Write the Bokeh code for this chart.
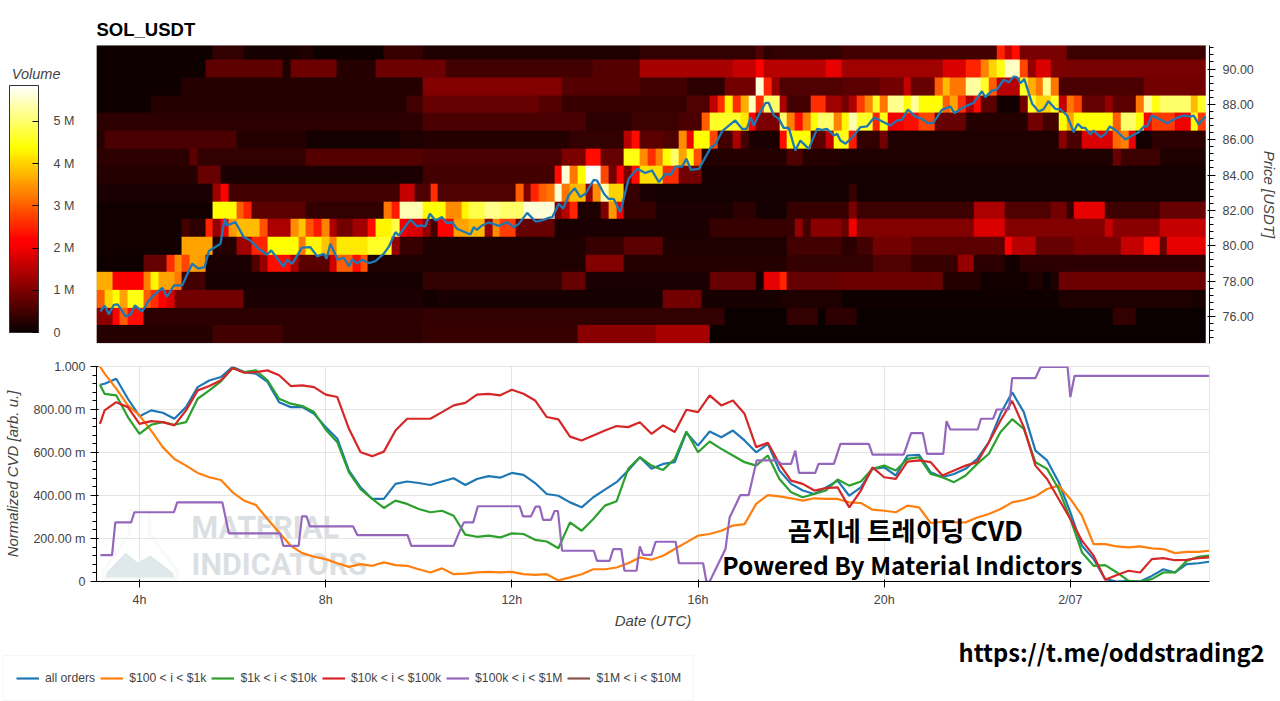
from bokeh.plotting import figure
from bokeh.layouts import column
from bokeh.models import (ColorBar, LinearColorMapper, BasicTicker, Label, Legend, LegendItem, LinearAxis,
                          CustomJSTickFormatter, NumeralTickFormatter, FixedTicker, PolyAnnotation)
from bokeh.embed import file_html
from bokeh.resources import INLINE
import numpy as np

# volume per price row, in millions: (value, column the run ends at), one column = 10 min
vol_91 = [(.05,15),(.35,19),(.12,26),(.2,28),(.05,37),(.4,42),(.2,70),(.35,85),(.6,86),(.3,87),(.35,96),(.5,116),(2.5,117),(1.6,118),(2.3,119),(.95,125),(.45,143)]
vol_90 = [(.05,14),(.75,24),(.2,25),(.85,31),(.25,36),(.85,45),(.48,64),(.65,70),(1.35,82),(1.6,85),(2.2,86),(1.5,94),(1.9,96),(1.3,109),(1.8,112),(2.5,114),(3.3,115),(4.0,116),(4.5,117),(5.5,119),(2.8,120),(1.2,121),(1.8,123),(1.0,125),(.95,143)]
vol_89 = [(.05,11),(.25,42),(1.05,60),(.65,70),(.5,76),(.3,81),(.9,85),(5.6,86),(2.5,87),(1.2,88),(.6,96),(.7,101),(.9,104),(1.6,105),(.8,108),(3.0,109),(3.8,110),(3.2,112),(5.3,114),(4.6,115),(3.0,116),(1.5,119),(4.6,120),(3.7,121),(3.2,122),(5.2,123),(3.2,124),(.55,135),(.9,143)]
vol_88 = [(.05,7),(.25,40),(.5,42),(.8,57),(.65,60),(.4,76),(.6,79),(1.6,80),(2.6,81),(4.3,82),(2.6,83),(3.7,84),(5.5,85),(2.6,86),(5.0,88),(1.4,89),(.5,92),(2.6,94),(1.3,96),(.9,97),(1.4,98),(2.7,99),(3.4,100),(4.6,101),(3.2,102),(5.2,104),(4.4,105),(5.3,106),(4.4,109),(3.0,110),(3.6,111),(2.6,112),(1.4,113),(2.3,114),(.7,116),(.08,119),(.9,120),(4.6,121),(4.0,123),(4.6,124),(1.6,125),(3.2,126),(2.8,127),(.8,130),(1.2,131),(.7,134),(3.2,135),(5.3,136),(4.5,137),(5.0,141),(3.8,142),(4.6,143)]
vol_87 = [(.3,42),(.55,63),(.3,69),(.45,75),(.55,78),(3.0,79),(4.6,83),(4.2,84),(2.2,85),(1.0,88),(5.0,89),(3.3,90),(2.3,91),(3.3,92),(4.4,93),(5.0,95),(3.3,96),(4.3,97),(5.4,98),(4.6,100),(2.5,101),(4.5,102),(2.0,104),(2.3,106),(2.8,108),(.8,112),(.25,120),(.9,122),(.5,124),(4.4,125),(3.6,126),(4.4,131),(3.0,132),(5.0,134),(4.4,135),(2.1,136),(2.7,139),(2.0,141),(4.5,142),(2.7,143)]
vol_86 = [(.25,1),(.55,18),(.25,27),(.1,39),(.2,42),(.25,61),(.35,68),(1.5,69),(2.3,70),(.7,73),(.6,75),(3.4,76),(2.0,77),(4.4,79),(2.8,80),(.5,82),(1.4,83),(.5,84),(.15,88),(2.3,89),(4.4,92),(.7,94),(1.6,95),(4.5,97),(2.4,98),(.35,101),(.9,102),(.2,124),(1.1,125),(.55,127),(1.8,131),(3.1,132),(3.3,133),(1.9,134),(.1,136),(.3,143)]
vol_85 = [(.3,12),(.7,13),(.35,27),(.65,42),(.55,60),(1.0,63),(2.3,65),(.8,68),(4.5,70),(3.4,71),(2.6,72),(3.3,73),(4.4,74),(5.0,75),(3.6,76),(4.5,77),(2.9,78),(.25,89),(.6,91),(.25,96),(.2,131),(.8,132),(.45,137),(.2,143)]
vol_84 = [(.25,13),(.8,16),(.15,42),(.5,59),(2.3,60),(5.6,61),(3.2,62),(4.4,63),(5.8,65),(2.8,66),(.9,67),(2.2,68),(1.0,69),(2.3,70),(4.1,73),(2.6,75),(.9,78),(.12,96),(.1,143)]
vol_83 = [(.15,15),(1.3,16),(2.2,17),(.5,39),(1.6,41),(.6,43),(2.6,44),(.6,54),(3.0,55),(1.0,56),(2.5,57),(3.0,58),(3.2,59),(5.6,60),(3.2,61),(3.8,63),(1.2,64),(3.4,65),(5.4,66),(4.0,68),(.4,70),(.15,72),(.1,97),(.4,98),(.1,143)]
vol_82 = [(.08,15),(4.4,18),(3.0,19),(2.5,20),(.7,27),(.35,37),(3.2,38),(2.4,39),(5.4,42),(4.4,45),(3.4,47),(4.3,48),(4.8,50),(5.2,52),(5.0,55),(5.6,59),(1.0,60),(1.5,61),(2.5,62),(.2,65),(1.0,66),(3.5,67),(2.0,68),(.4,72),(.15,82),(.3,85),(.1,89),(.4,97),(1.0,98),(.45,113),(1.4,117),(.6,123),(.9,125),(.35,126),(1.9,130),(.5,131),(.45,137),(.8,143)]
vol_81 = [(.08,11),(.5,12),(.3,14),(2.5,15),(1.2,16),(2.0,17),(3.5,18),(3.8,21),(2.9,22),(1.4,25),(3.4,26),(3.9,27),(2.9,28),(2.4,29),(3.3,30),(1.4,31),(.9,33),(1.3,35),(2.3,36),(4.3,38),(4.8,39),(2.0,40),(1.8,42),(1.2,43),(.5,44),(2.2,46),(3.6,48),(3.8,50),(1.2,51),(3.4,52),(2.7,54),(.8,59),(.15,79),(.4,90),(1.2,91),(.5,92),(1.1,96),(.8,97),(2.0,98),(1.05,113),(1.8,117),(1.05,130),(1.6,131),(1.1,137),(1.6,143)]
vol_80 = [(.08,11),(3.6,15),(.25,18),(1.3,20),(2.5,22),(4.4,26),(3.2,27),(4.3,29),(3.9,30),(3.3,31),(4.2,35),(4.6,38),(1.2,39),(.4,42),(.2,63),(.4,68),(.7,73),(.2,89),(.5,96),(.3,98),(.5,100),(.9,105),(.7,117),(2.2,118),(1.5,121),(.8,126),(1.0,132),(1.6,135),(2.3,137),(.8,138),(1.9,143)]
vol_79 = [(.05,6),(.8,9),(2.6,10),(3.4,11),(2.8,12),(3.6,13),(3.5,14),(.15,20),(.6,21),(1.2,22),(2.3,25),(1.4,26),(.7,30),(1.7,31),(3.0,33),(2.3,34),(2.9,35),(.2,63),(1.05,68),(.25,89),(.4,90),(.35,100),(.6,105),(.4,111),(1.2,113),(.3,117),(.08,119),(.3,143)]
vol_78 = [(3.7,2),(2.2,6),(3.3,7),(4.3,8),(3.6,10),(3.2,11),(.5,14),(.12,42),(.35,60),(.8,63),(.15,79),(.8,85),(.1,86),(1.9,88),(2.5,89),(.8,96),(.85,109),(.25,114),(.07,120),(.2,122),(.03,123),(.2,124),(.85,143)]
vol_77 = [(3.0,1),(4.0,2),(4.4,3),(3.6,4),(4.5,6),(3.0,7),(2.6,8),(2.2,9),(1.8,10),(.9,19),(.15,42),(.08,44),(.15,45),(.12,73),(.9,78),(.12,88),(.2,96),(.06,124),(.2,141),(.12,143)]
vol_76 = [(1.1,2),(2.2,3),(3.0,4),(2.3,6),(.3,42),(.35,81),(.02,89),(.35,93),(.02,94),(.3,98),(.02,131),(.35,134),(.02,143)]
vol_75 = [(.25,15),(.5,24),(.3,42),(.4,62),(1.1,72),(1.35,79),(.02,143)]

price_hours = [3.16,3.25,3.34,3.45,3.53,3.70,3.81,3.90,4.06,4.20,4.34,4.49,4.59,4.74,4.92,5.13,5.27,5.40,5.49,5.74,5.83,5.88,6.06,6.24,6.38,6.56,6.74,6.83,7.09,7.17,7.28,7.49,7.67,7.82,7.96,8.02,8.10,8.26,8.39,8.50,8.57,8.66,8.78,8.93,9.07,9.25,9.36,9.50,9.57,9.82,9.97,
               10.04,10.14,10.24,10.36,10.50,10.60,10.72,10.82,11.11,11.18,11.25,11.36,11.50,11.72,11.90,12.04,12.15,12.33,12.51,12.65,12.79,12.87,13.01,13.10,13.22,13.35,13.47,13.58,13.76,13.83,13.98,14.08,14.19,14.33,14.51,14.69,14.87,15.01,15.16,15.30,15.41,15.52,15.66,15.75,15.85,16.02,16.27,16.37,16.52,16.80,16.95,17.05,17.13,17.20,17.31,17.45,17.52,17.63,17.74,17.84,17.95,18.09,18.20,18.38,18.56,18.67,18.77,18.92,18.99,
               19.06,19.17,19.35,19.49,19.63,19.78,19.92,20.13,20.28,20.38,20.51,20.67,20.81,20.94,21.06,21.24,21.42,21.51,21.64,21.78,21.92,22.01,22.10,22.17,22.32,22.42,22.57,22.68,22.78,22.85,22.93,23.01,23.18,23.32,23.43,23.53,23.68,23.79,23.93,24.07,24.16,24.25,24.32,24.43,24.50,24.65,24.75,24.85,25.00,25.18,25.33,25.47,25.58,25.65,25.75,25.90,26.08,26.29,26.43,26.58,26.65,26.76,26.83,26.91]
price_values = [76.28,76.62,76.12,76.66,76.68,76.00,76.12,76.62,76.28,76.91,77.28,77.62,77.10,77.76,77.76,78.98,78.70,78.79,79.70,80.11,81.53,81.15,81.34,80.49,80.30,79.83,79.49,79.74,78.83,79.21,78.98,79.89,79.92,79.40,79.55,79.26,80.11,79.21,79.32,78.83,79.26,78.98,79.21,79.02,79.13,79.55,79.96,80.77,80.58,81.47,81.09,
                81.15,81.09,81.81,81.43,81.62,81.28,81.33,80.96,80.64,81.05,80.90,81.15,81.32,81.13,81.33,81.05,81.24,81.86,81.37,81.43,81.58,81.62,82.37,82.09,82.84,83.26,82.75,82.94,83.73,83.69,82.94,82.65,82.65,81.90,83.79,84.35,84.12,84.26,83.60,84.07,84.01,84.48,84.48,84.92,84.29,84.35,85.54,85.73,86.48,87.09,86.61,86.61,87.27,86.80,87.42,88.08,88.08,87.37,87.18,86.67,86.67,85.39,85.95,85.48,86.61,86.56,86.61,86.24,86.33,
                85.95,85.77,86.24,86.71,86.75,87.24,87.09,86.80,87.09,87.12,87.71,87.31,87.18,86.93,86.97,87.69,87.88,87.50,87.74,87.93,88.08,88.41,88.74,88.41,88.78,88.84,89.39,89.25,89.57,89.54,89.20,89.44,88.03,87.59,87.74,88.18,87.74,87.71,87.37,86.43,86.90,86.67,86.67,86.29,86.52,86.14,86.33,86.75,86.48,86.01,86.24,86.43,86.75,86.75,87.37,87.18,86.93,87.24,87.37,87.31,87.37,86.86,87.12,87.31]

# normalized cvd, read every 15 min
cvd_hours = [3.15] + [3.25 + 0.25 * i for i in range(95)] + [26.98]
cvd_all = [.915,.92,.943,.85,.769,.796,.785,.757,.811,.904,.935,.951,.998,.974,.967,.928,.834,.811,.811,.78,.718,.664,.516,.438,.384,.384,.454,.465,.458,
           .449,.465,.48,.449,.477,.49,.483,.505,.496,.458,.407,.399,.368,.345,.392,.427,.462,.516,.578,.524,.547,.555,.692,.632,.698,.671,.702,.656,.601,.64,.516,.454,.423,.407,.438,.469,
           .399,.438,.524,.531,.493,.586,.589,.508,.485,.5,.524,.57,.648,.78,.88,.788,.609,.563,.462,.322,.166,.104,.011,0,.003,0,.026,.057,.042,.081,.085,.092]
cvd_100_1k = [1.0,.967,.897,.819,.772,.702,.625,.57,.539,.505,.485,.472,.415,.376,.356,.291,.228,.166,.132,.115,.104,.085,.068,.081,.073,.089,.076,.073,.057,
              .042,.061,.034,.037,.042,.045,.042,.045,.034,.031,.034,.005,.019,.034,.057,.057,.065,.085,.112,.101,.12,.151,.182,.213,.221,.236,.26,.267,.361,.402,.396,.387,.376,.387,.384,.384,
              .368,.365,.334,.329,.322,.353,.345,.272,.278,.275,.275,.298,.314,.337,.368,.379,.396,.43,.446,.384,.306,.174,.174,.163,.159,.163,.154,.151,.132,.138,.138,.143]
cvd_1k_10k = [.915,.873,.866,.765,.687,.729,.741,.729,.741,.85,.889,.931,.993,.974,.982,.936,.85,.827,.816,.788,.707,.648,.508,.43,.384,.342,.376,.361,.337,
              .322,.329,.306,.218,.208,.213,.205,.224,.221,.194,.186,.155,.275,.236,.291,.353,.373,.524,.578,.539,.519,.57,.698,.601,.651,.617,.586,.555,.539,.586,.477,.415,.392,.407,.423,.474,
              .446,.465,.524,.539,.516,.57,.578,.5,.485,.462,.493,.547,.594,.695,.755,.71,.555,.524,.43,.291,.135,.073,.076,.042,.003,0,.011,.042,.042,.096,.115,.12]
cvd_10k_100k = [.733,.796,.834,.811,.733,.746,.741,.726,.796,.889,.909,.936,.993,.971,.974,.982,.959,.909,.912,.904,.869,.858,.71,.601,.583,.604,.702,.757,.757,
                .757,.788,.819,.831,.869,.873,.866,.892,.873,.842,.765,.754,.674,.656,.679,.702,.723,.718,.741,.687,.726,.695,.799,.788,.866,.819,.842,.78,.625,.645,.547,.469,.454,.423,.434,.438,
                .345,.423,.531,.485,.477,.558,.563,.555,.493,.516,.539,.555,.648,.749,.84,.718,.539,.477,.384,.291,.19,.12,.008,.03,.05,.042,.104,.109,.099,.101,.109,.112]
cvd_100k_1m_hours = [3.16,3.41,3.48,3.82,3.89,4.74,4.81,5.78,5.92,7.02,7.09,7.42,7.49,7.59,7.66,8.59,8.68,9.76,9.84,
                     10.75,10.86,10.97,11.17,11.27,12.17,12.24,12.41,12.51,12.60,12.67,12.84,12.92,12.99,13.08,13.76,13.83,14.10,14.18,14.35,14.42,14.68,14.75,14.82,15.0,15.09,15.52,15.59,16.11,16.18,16.25,16.59,16.68,16.91,17.09,17.26,17.70,17.79,18.0,18.09,18.17,18.52,18.59,18.92,
                     19.06,19.67,19.75,20.42,20.58,20.83,20.92,21.27,21.34,21.42,22.01,22.08,22.34,22.42,22.68,22.75,23.25,23.36,23.94,24.0,24.09,26.98]
cvd_100k_1m = [.123,.123,.275,.275,.322,.322,.368,.368,.224,.224,.166,.166,.303,.303,.256,.256,.216,.216,.166,
               .166,.225,.275,.275,.35,.35,.303,.303,.348,.348,.287,.287,.328,.328,.143,.143,.096,.096,.151,.151,.05,.05,.163,.124,.124,.185,.185,.085,.085,0,0,.151,.298,.402,.402,.563,.563,.547,.547,.609,.505,.505,.547,.547,
               .64,.64,.59,.59,.69,.69,.594,.594,.746,.707,.707,.757,.757,.80,.80,.946,.946,.998,.998,.858,.956,.956]

tick_hours = {4: '4h', 8: '8h', 12: '12h', 16: '16h', 20: '20h', 24: '2/07'}
series_names = ['all orders', '$100 < i < $1k', '$1k < i < $10k', '$10k < i < $100k', '$100k < i < $1M', '$1M < i < $10M']
series_colors = ['#1f77b4', '#ff7f0e', '#2ca02c', '#d62728', '#9467bd', '#8c564b']

FONT = 'Liberation Sans'
X_START, X_END = 3.076, 26.99
Y1_LOW, Y1_HIGH = 74.47, 91.33


def expand(runs):
    row = []
    for val, end in runs:
        row += [val * 1e6] * (end - len(row))
    return row


def hot_palette(n=256):
    t = np.linspace(0, 1, n)
    r = np.clip(0.04 + t / 0.375, 0, 1)
    g = np.clip((t - 0.375) / 0.375, 0, 1)
    b = np.clip((t - 0.75) / 0.25, 0, 1)
    return ['#%02x%02x%02x' % (int(a * 255), int(c * 255), int(d * 255)) for a, c, d in zip(r, g, b)]


def dx(px):
    return 4 + (px - 139) / 46.55


def dy(py):
    return (581 - py) / 215


rows = [vol_75, vol_76, vol_77, vol_78, vol_79, vol_80, vol_81, vol_82, vol_83, vol_84,
        vol_85, vol_86, vol_87, vol_88, vol_89, vol_90, vol_91]
heat = np.array([expand(r) for r in rows])

# top panel: volume heatmap + price
p1 = figure(width=1280, height=350, x_range=(X_START, X_END), y_range=(Y1_LOW, Y1_HIGH),
            y_axis_location='right', output_backend='svg', toolbar_location=None,
            title='SOL_USDT', min_border_left=96, min_border_right=71, min_border_top=45, min_border_bottom=7)
p1.title.text_font = FONT
p1.title.text_font_size = '18.5px'
p1.title.text_font_style = 'bold'
p1.title.text_color = '#000000'
p1.title.standoff = 12
p1.xaxis.visible = False
p1.grid.visible = False

mapper = LinearColorMapper(palette=hot_palette(), low=0, high=5.85e6)
p1.image(image=[heat], x=X_START, y=74.5, dw=143 / 6, dh=17, color_mapper=mapper)
p1.line(price_hours, price_values, line_width=2.3, color=series_colors[0])

p1.yaxis.formatter = NumeralTickFormatter(format='0.00')
p1.yaxis.axis_label = 'Price [USDT]'
p1.yaxis.axis_label_text_font = FONT
p1.yaxis.axis_label_text_font_size = '15px'
p1.yaxis.axis_label_standoff = 4
p1.yaxis.major_label_standoff = 7
p1.yaxis.major_label_text_font = FONT
p1.yaxis.major_label_text_font_size = '12.5px'

color_bar = ColorBar(color_mapper=mapper, ticker=BasicTicker(desired_num_ticks=6), width=29, height=247,
                     location=(-87, 11), padding=0, margin=0, major_label_text_font=FONT,
                     major_label_text_font_size='12.5px', label_standoff=15,
                     major_tick_line_color='#000000', major_tick_in=6, bar_line_color='#333333',
                     background_fill_alpha=0, border_line_alpha=0,
                     formatter=CustomJSTickFormatter(code="return tick == 0 ? '0' : (tick / 1e6) + ' M'"))
p1.add_layout(color_bar, 'center')
# colorbar caption, labels inside the plot area get clipped so use a bare axis
p1.add_layout(LinearAxis(ticker=FixedTicker(ticks=[89.7]), major_label_overrides={89.7: 'Volume'},
                         axis_line_color=None, major_tick_line_color=None, minor_tick_line_color=None,
                         major_label_standoff=30, major_label_text_font=FONT, major_label_text_font_size='14.5px',
                         major_label_text_font_style='italic', major_label_text_color='#444444'), 'left')

# bottom panel: normalized cvd
p2 = figure(width=1280, height=285, x_range=p1.x_range, y_range=(0, 1), output_backend='svg',
            toolbar_location=None, min_border_left=96, min_border_right=71, min_border_top=16, min_border_bottom=54)

# watermark
p2.add_layout(PolyAnnotation(xs=[dx(v) for v in (129, 129, 102, 103, 175, 178, 149, 149)],
                             ys=[dy(v) for v in (510, 533, 572, 579, 579, 572, 533, 510)],
                             fill_color='#ffffff', fill_alpha=0, line_color='#e9eaea', line_width=3,
                             level='underlay'))
p2.add_layout(PolyAnnotation(xs=[dx(v) for v in (106, 125, 137, 150, 172, 174, 105)],
                             ys=[dy(v) for v in (572, 552, 562, 555, 572, 577, 577)],
                             fill_color='#dfe8eb', fill_alpha=1, line_alpha=0, level='underlay'))
for word, py in [('MATERIAL', 527), ('INDICATORS', 564)]:
    p2.add_layout(Label(x=dx(191), y=dy(py), text=word, text_font='Roboto', text_font_size='30.5px',
                        text_font_style='bold', text_color='#dcdfe2', text_baseline='middle', level='underlay'))

for hrs, vals, color in [(cvd_hours, cvd_all, series_colors[0]), (cvd_hours, cvd_100_1k, series_colors[1]),
                         (cvd_hours, cvd_1k_10k, series_colors[2]), (cvd_hours, cvd_10k_100k, series_colors[3]),
                         (cvd_100k_1m_hours, cvd_100k_1m, series_colors[4])]:
    p2.line(hrs, vals, line_width=2.2, color=color)

p2.xaxis.ticker = FixedTicker(ticks=list(tick_hours))
p2.xaxis.major_label_overrides = tick_hours
p2.xaxis.minor_tick_line_color = None
p2.xaxis.axis_label = 'Date (UTC)'
p2.yaxis.axis_label = 'Normalized CVD [arb. u.]'
p2.yaxis.formatter = CustomJSTickFormatter(
    code="return tick == 0 ? '0' : tick >= 1 ? tick.toFixed(3) : (tick * 1000).toFixed(2) + ' m'")
p2.yaxis.axis_label_standoff = 9
p2.xaxis.axis_label_standoff = 2
for ax in (p2.xaxis, p2.yaxis):
    ax.axis_label_text_font = FONT
    ax.axis_label_text_font_size = '15px'
    ax.major_label_text_font = FONT
    ax.major_label_text_font_size = '12.5px'

# texts pasted over the chart
for text, x, y, size, style in [
        ('곰지네 트레이딩 CVD', 905, 529, '26.5px', 'bold'),
        ('Powered By Material Indictors', 902, 564, '24.5px', 'bold')]:
    p2.add_layout(Label(x=dx(x), y=dy(y), text=text, text_align='center', text_baseline='middle',
                        text_font='Noto Sans CJK KR', text_font_size=size, text_font_style=style, text_color='#000000'))

# strip below: legend + link
p3 = figure(width=1280, height=66, x_range=(0, 1280), y_range=(0, 66), output_backend='svg', toolbar_location=None,
            min_border=0, frame_align=False)
p3.axis.visible = False
p3.grid.visible = False
p3.outline_line_color = None
# legend keys only, drawn off range ($1M-$10M has no visible line in the chart either)
keys = [p3.line([-9, -8], [-9, -9], line_width=2.2, color=c) for c in series_colors]
legend = Legend(items=[LegendItem(label=n, renderers=[r]) for n, r in zip(series_names, keys)],
                orientation='horizontal', location=(3, 0), padding=12, spacing=5, margin=0,
                glyph_width=23, label_standoff=6, label_text_font=FONT, label_text_font_size='12.2px',
                border_line_color='#eeeeee', border_line_width=1)
p3.add_layout(legend, 'center')
p3.add_layout(Label(x=1111, y=50, text='https://t.me/oddstrading2', text_align='center', text_baseline='middle',
                    text_font='Noto Sans CJK KR', text_font_size='23.7px', text_font_style='bold', text_color='#000000'))

page = column(p1, p2, p3, spacing=0)
open('out.html', 'w').write(file_html(page, INLINE))
